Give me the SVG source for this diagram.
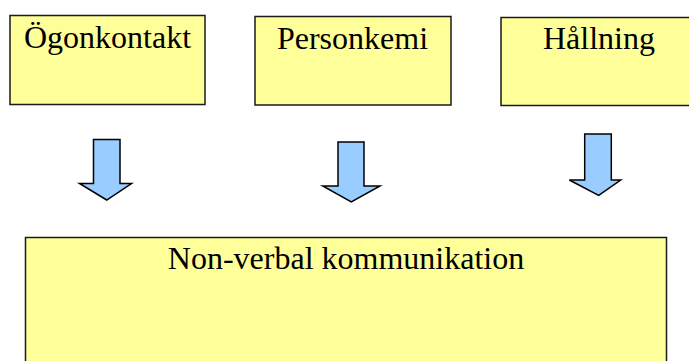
<svg xmlns="http://www.w3.org/2000/svg" width="689" height="361" viewBox="0 0 689 361">
  <style>
    .box { fill: #FFFF99; stroke: #1a1a1a; stroke-width: 1.5; }
    .lbl { font-family: "Liberation Serif", "Times New Roman", serif; font-size: 32px; fill: #000; text-anchor: middle; }
    .arrow { fill: #99CCFF; stroke: #000; stroke-width: 1.5; stroke-linejoin: miter; }
  </style>
  <rect width="689" height="361" fill="#ffffff"/>

  <g id="ogonkontakt">
    <rect class="box" x="10" y="15.5" width="195" height="89"/>
    <text class="lbl" x="107.5" y="48">Ögonkontakt</text>
  </g>

  <g id="personkemi">
    <rect class="box" x="255" y="16.5" width="196" height="88.5"/>
    <text class="lbl" x="352.5" y="48.5">Personkemi</text>
  </g>

  <g id="hallning">
    <rect class="box" x="501" y="17.5" width="196" height="88"/>
    <text class="lbl" x="599" y="48.5">Hållning</text>
  </g>

  <g id="non-verbal">
    <rect class="box" x="25.5" y="237.5" width="641" height="135"/>
    <text class="lbl" x="346" y="268.5">Non-verbal kommunikation</text>
  </g>

  <g id="connectors">
    <polygon class="arrow" points="93.5,139.5 120,139.5 120,183.5 131.5,183.5 106.7,200 79.5,183.5 93.5,183.5"/>
    <polygon class="arrow" points="338,142 364,142 364,186 380,186 351.3,202 322.7,186 338,186"/>
    <polygon class="arrow" points="584.7,134 611.3,134 611.3,180 620.7,180 598.7,195.3 569.3,180 584.7,180"/>
  </g>
</svg>
